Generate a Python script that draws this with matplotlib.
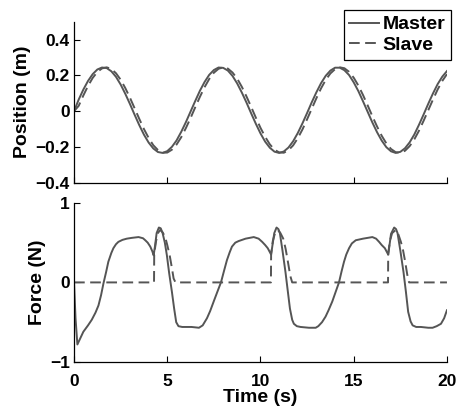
import matplotlib
matplotlib.use("Agg")
import matplotlib.pyplot as plt

plt.rcParams['font.family'] = ['Liberation Sans', 'DejaVu Sans']
plt.rcParams['font.weight'] = 'bold'

# position (m), read every 0.25 s
t_pos = [i * 0.25 for i in range(81)]
pos_master = [0.0, 0.065, 0.121, 0.169, 0.207, 0.233, 0.244, 0.241, 0.223, 0.192,
              0.149, 0.097, 0.040, -0.020, -0.078, -0.131, -0.175, -0.208, -0.228,
              -0.233, -0.223, -0.199, -0.163, -0.115, -0.061, -0.002, 0.057, 0.114,
              0.163, 0.203, 0.230, 0.244, 0.242, 0.227, 0.197, 0.155, 0.104, 0.048,
              -0.012, -0.070, -0.124, -0.170, -0.204, -0.226, -0.233, -0.225, -0.203,
              -0.168, -0.122, -0.068, -0.010, 0.050, 0.106, 0.157, 0.198, 0.227,
              0.243, 0.243, 0.229, 0.202, 0.161, 0.112, 0.055, -0.004, -0.063,
              -0.117, -0.164, -0.201, -0.224, -0.233, -0.227, -0.207, -0.174,
              -0.130, -0.076, -0.018, 0.042, 0.099, 0.151, 0.193, 0.224]
pos_slave = [0.0, 0.030, 0.088, 0.141, 0.186, 0.219, 0.239, 0.245, 0.236, 0.212,
             0.176, 0.129, 0.075, 0.016, -0.043, -0.100, -0.149, -0.190, -0.217,
             -0.232, -0.231, -0.215, -0.186, -0.145, -0.094, -0.038, 0.022, 0.080,
             0.134, 0.180, 0.215, 0.237, 0.245, 0.238, 0.216, 0.182, 0.136, 0.082,
             0.024, -0.036, -0.093, -0.143, -0.185, -0.215, -0.230, -0.232, -0.218,
             -0.191, -0.151, -0.102, -0.045, 0.014, 0.073, 0.128, 0.175, 0.211,
             0.235, 0.245, 0.240, 0.220, 0.187, 0.143, 0.090, 0.032, -0.028,
             -0.085, -0.137, -0.180, -0.211, -0.229, -0.232, -0.221, -0.195,
             -0.157, -0.109, -0.053, 0.006, 0.065, 0.121, 0.169, 0.207]

# force (N)
t_fm = [0.0, 0.08, 0.18, 0.3, 0.5, 0.75, 0.95, 1.15, 1.31, 1.45, 1.58, 1.72, 1.84,
        2.0, 2.11, 2.25, 2.38, 2.6, 2.83, 3.1, 3.46, 3.7, 3.82, 3.95, 4.09, 4.2,
        4.27, 4.35, 4.43, 4.55, 4.65, 4.75, 4.87, 4.98, 5.1, 5.25, 5.37, 5.48,
        5.6, 5.8, 6.3, 6.7, 6.9, 7.13, 7.3, 7.49, 7.7, 7.88, 8.05, 8.2, 8.35,
        8.47, 8.65, 8.83, 9.2, 9.64, 9.9, 10.09, 10.25, 10.39, 10.57, 10.65,
        10.74, 10.86, 10.96, 11.04, 11.18, 11.34, 11.47, 11.58, 11.7, 11.79,
        11.95, 12.15, 12.6, 12.96, 13.1, 13.3, 13.49, 13.65, 13.85, 14.0, 14.21,
        14.35, 14.48, 14.6, 14.75, 14.9, 15.11, 15.5, 16.0, 16.2, 16.36, 16.5,
        16.67, 16.85, 16.92, 17.0, 17.17, 17.27, 17.35, 17.5, 17.67, 17.8, 17.92,
        18.05, 18.16, 18.35, 18.6, 19.0, 19.23, 19.45, 19.68, 19.85, 20.0]
f_master = [0.0, -0.45, -0.78, -0.72, -0.62, -0.54, -0.47, -0.38, -0.29, -0.16,
            -0.01, 0.13, 0.26, 0.37, 0.43, 0.48, 0.51, 0.535, 0.55, 0.56, 0.57,
            0.555, 0.53, 0.50, 0.45, 0.39, 0.34, 0.47, 0.62, 0.69, 0.68, 0.62,
            0.50, 0.34, 0.12, -0.12, -0.33, -0.50, -0.55, -0.56, -0.56, -0.57,
            -0.54, -0.45, -0.36, -0.24, -0.11, 0.0, 0.15, 0.28, 0.38, 0.45, 0.50,
            0.52, 0.55, 0.57, 0.55, 0.51, 0.47, 0.43, 0.35, 0.48, 0.62, 0.69, 0.67,
            0.62, 0.40, 0.13, -0.12, -0.33, -0.47, -0.52, -0.55, -0.56, -0.57,
            -0.57, -0.55, -0.50, -0.43, -0.35, -0.24, -0.14, 0.0, 0.14, 0.26, 0.35,
            0.43, 0.49, 0.53, 0.55, 0.57, 0.55, 0.51, 0.47, 0.43, 0.35, 0.47, 0.61,
            0.69, 0.67, 0.62, 0.40, 0.13, -0.12, -0.37, -0.49, -0.54, -0.56, -0.56,
            -0.57, -0.57, -0.55, -0.52, -0.45, -0.35]

t_fs = [0.0, 4.29, 4.30, 4.40, 4.5, 4.62, 4.75, 4.89, 5.0, 5.13, 5.25, 5.34, 5.44,
        10.56, 10.57, 10.66, 10.78, 10.93, 11.07, 11.22, 11.35, 11.47, 11.6, 11.70,
        16.84, 16.85, 16.94, 17.06, 17.26, 17.4, 17.53, 17.65, 17.76, 17.87, 17.97,
        20.0]
f_slave = [0.0, 0.0, 0.36, 0.52, 0.62, 0.66, 0.63, 0.57, 0.47, 0.34, 0.18, 0.05,
           0.0, 0.0, 0.36, 0.52, 0.62, 0.66, 0.62, 0.55, 0.42, 0.26, 0.08, 0.0,
           0.0, 0.36, 0.52, 0.62, 0.66, 0.60, 0.51, 0.40, 0.26, 0.10, 0.0, 0.0]

gray = '#555555'
tick_fs = 12.5
label_fs = 14

fig = plt.figure(figsize=(4.57, 4.09), dpi=100)
ax1 = fig.add_axes([0.162, 0.553, 0.816, 0.394])
ax2 = fig.add_axes([0.162, 0.115, 0.816, 0.389])

l1, = ax1.plot(t_pos, pos_master, color=gray, lw=1.4, label='Master')
l2, = ax1.plot(t_pos, pos_slave, color=gray, lw=1.4, dashes=(5.5, 2.8), label='Slave')
ax2.plot(t_fm, f_master, color=gray, lw=1.4)
ax2.plot(t_fs, f_slave, color=gray, lw=1.4, dashes=(5.5, 2.8))

ax1.set_ylim(-0.4, 0.5)
ax1.set_yticks([-0.4, -0.2, 0, 0.2, 0.4])
ax1.set_yticklabels(['\u22120.4', '\u22120.2', '0', '0.2', '0.4'])
ax2.set_ylim(-1, 1)
ax2.set_yticks([-1, 0, 1])
ax2.set_yticklabels(['\u22121', '0', '1'])

for ax in (ax1, ax2):
    ax.set_xlim(0, 20)
    ax.set_xticks([0, 5, 10, 15, 20])
    ax.spines['top'].set_visible(False)
    ax.spines['right'].set_visible(False)
    ax.spines['left'].set_linewidth(0.9)
    ax.spines['bottom'].set_linewidth(0.9)
    ax.tick_params(direction='in', length=4, width=0.8, labelsize=tick_fs, pad=3)
ax1.tick_params(labelbottom=False)
ax2.tick_params(axis='x', pad=9)

ax1.set_ylabel('Position (m)', fontsize=label_fs, fontweight='bold', labelpad=3)
ax2.set_ylabel('Force (N)', fontsize=label_fs, fontweight='bold', labelpad=3)
ax2.set_xlabel('Time (s)', fontsize=label_fs, fontweight='bold', labelpad=0)

leg = ax1.legend(handles=[l1, l2], loc='upper right', fontsize=label_fs,
                 bbox_to_anchor=(451 / 457, 1 - 10 / 409), bbox_transform=fig.transFigure,
                 fancybox=False, edgecolor='black', framealpha=1,
                 handlelength=1.5, handletextpad=0.2, borderpad=0.3,
                 labelspacing=0.15, borderaxespad=0)
leg.get_frame().set_linewidth(0.9)

fig.savefig('out.png', dpi=100)
